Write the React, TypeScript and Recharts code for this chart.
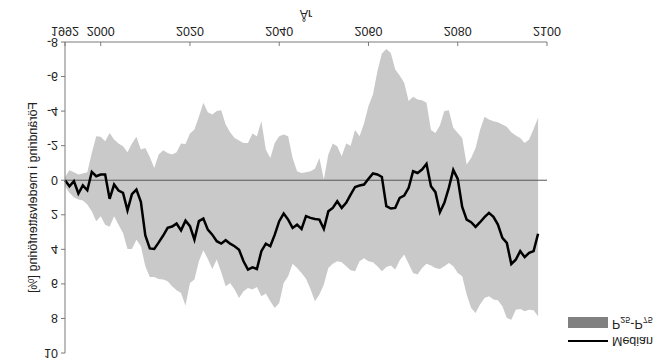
import { ComposedChart, Area, Line, XAxis, YAxis, ReferenceLine } from 'recharts'

const years = [
  1992, 1993, 1994, 1995, 1996, 1997, 1998, 1999, 2000, 2001,
  2002, 2003, 2004, 2005, 2006, 2007, 2008, 2009, 2010, 2011,
  2012, 2013, 2014, 2015, 2016, 2017, 2018, 2019, 2020, 2021,
  2022, 2023, 2024, 2025, 2026, 2027, 2028, 2029, 2030, 2031,
  2032, 2033, 2034, 2035, 2036, 2037, 2038, 2039, 2040, 2041,
  2042, 2043, 2044, 2045, 2046, 2047, 2048, 2049, 2050, 2051,
  2052, 2053, 2054, 2055, 2056, 2057, 2058, 2059, 2060, 2061,
  2062, 2063, 2064, 2065, 2066, 2067, 2068, 2069, 2070, 2071,
  2072, 2073, 2074, 2075, 2076, 2077, 2078, 2079, 2080, 2081,
  2082, 2083, 2084, 2085, 2086, 2087, 2088, 2089, 2090, 2091,
  2092, 2093, 2094, 2095, 2096, 2097, 2098,
]

const median = [
  0, 0.35, 0.05, 0.77, 0.3, 0.58, -0.48, -0.23, -0.33, -0.33,
  1.08, 0.25, 0.6, 0.73, 1.74, 0.8, 0.54, 1.25, 3.2, 3.95,
  3.98, 3.6, 3.2, 2.76, 2.68, 2.51, 2.9, 2.34, 2.66, 3.44,
  2.37, 2.22, 2.86, 3.15, 3.53, 3.67, 3.47, 3.67, 3.82, 4.02,
  4.69, 5.17, 5.04, 5.14, 4.11, 3.67, 3.82, 3.15, 2.37, 1.93,
  2.28, 2.76, 2.57, 2.82, 2.08, 2.18, 2.24, 2.28, 2.82, 1.8,
  1.6, 1.22, 1.6, 1.31, 0.83, 0.39, 0.31, 0.25, -0.08, -0.39,
  -0.33, -0.19, 1.5, 1.64, 1.6, 1.02, 0.89, 0.44, -0.52, -0.42,
  -0.62, -0.95, 0.35, 0.69, 1.85, 1.31, 0.44, -0.6, -0.08, 1.54,
  2.28, 2.43, 2.7, 2.43, 2.14, 1.89, 2.12, 2.57, 3.34, 3.63,
  4.85, 4.6, 4.1, 4.45, 4.2, 4.1, 3.1,
]

const p25 = [
  -0.19, -0.58, -0.46, -0.33, -0.39, -0.46, -1.58, -2.55, -2.51, -2.26,
  -2.74, -2.36, -2.12, -1.97, -1.62, -2.12, -2.51, -1.78, -1.87, -1.35,
  -0.71, -1.49, -1.74, -1.58, -1.49, -1.62, -2.12, -2.1, -2.7, -2.93,
  -3.67, -4.48, -3.94, -3.8, -4.0, -4.05, -3.22, -2.78, -2.45, -2.3,
  -2.16, -2.16, -2.7, -2.55, -3.42, -1.78, -1.29, -2.16, -2.55, -2.64,
  -2.55, -1.29, -0.52, -0.42, -0.46, -0.52, -0.66, -1.29, -0.04, -1.49,
  -2.12, -1.97, -1.39, -2.12, -2.0, -2.9, -2.55, -3.28, -4.29, -4.96,
  -6.31, -7.34, -7.6, -7.37, -6.41, -6.06, -5.64, -4.58, -4.83, -4.67,
  -4.63, -4.48, -2.9, -2.74, -3.17, -4.0, -4.05, -3.03, -2.74, -2.45,
  -0.91, -1.29, -1.87, -2.9, -3.67, -3.51, -3.42, -3.36, -3.22, -3.09,
  -2.78, -2.59, -2.45, -2.16, -2.36, -2.97, -3.61,
]

const p75 = [
  0.35, 0.73, 0.98, 1.12, 1.18, 1.41, 1.8, 2.37, 2.08, 2.57,
  2.7, 2.08, 2.57, 3.05, 3.98, 3.98, 3.44, 3.82, 4.98, 5.6,
  5.6, 5.71, 5.75, 5.85, 6.14, 6.37, 6.53, 7.25, 5.95, 5.75,
  4.69, 4.05, 4.56, 5.14, 4.59, 5.33, 6.14, 5.95, 6.33, 6.81,
  6.43, 6.24, 6.33, 6.18, 6.72, 6.56, 7.0, 7.39, 7.1, 5.95,
  5.56, 4.83, 5.08, 5.37, 5.7, 6.29, 7.0, 6.62, 6.04, 5.08,
  4.83, 4.69, 4.75, 4.98, 5.21, 5.27, 4.69, 4.52, 4.69, 4.75,
  4.98, 5.27, 5.02, 4.94, 5.17, 4.63, 4.3, 4.83, 5.37, 5.46,
  5.08, 4.83, 4.94, 5.08, 5.14, 4.98, 4.79, 4.98, 5.37, 5.56,
  6.62, 7.39, 7.68, 7.2, 6.81, 6.72, 6.91, 6.95, 7.3, 7.97,
  8.07, 7.49, 7.45, 7.59, 7.49, 7.53, 7.88,
]

const xTicks = [1992, 2000, 2020, 2040, 2060, 2080, 2100]
const yTicks = [-8, -6, -4, -2, 0, 2, 4, 6, 8, 10]

const data = years.map((year, i) => ({ year, median: median[i], band: [p25[i], p75[i]] }))

const font = '"Liberation Sans", Arial, sans-serif'
const axisGray = '#7a7a7a'
const textColor = '#222'

// x ticks point into the plot
const XTick = ({ x, y, payload }: any) => (
  <g>
    <line x1={x} x2={x} y1={y} y2={y - 4} stroke={axisGray} />
    <text x={x} y={y + 15} textAnchor="middle" fontSize={12.5} fill={textColor} fontFamily={font}>
      {payload.value}
    </text>
  </g>
)

export default function App() {
  return (
    // the reference picture is mirrored top to bottom, so the whole chart is flipped
    <div
      style={{
        position: 'absolute',
        left: 0,
        top: 0,
        width: 667,
        height: 360,
        background: '#fff',
        fontFamily: font,
        transform: 'scaleY(-1)',
      }}
    >
      <ComposedChart width={667} height={360} data={data} margin={{ top: 7, right: 120, bottom: 12, left: 5 }}>
        <XAxis
          dataKey="year"
          type="number"
          domain={[1992, 2100]}
          ticks={xTicks}
          interval={0}
          height={30}
          stroke={axisGray}
          tickLine={false}
          tickSize={0}
          tickMargin={0}
          tick={<XTick />}
          label={{ value: 'År', position: 'insideBottom', offset: -2, fontSize: 12.5, fill: textColor, fontFamily: font }}
        />
        <YAxis
          type="number"
          domain={[-8, 10]}
          ticks={yTicks}
          interval={0}
          width={60}
          stroke={axisGray}
          tickSize={4}
          tickMargin={3}
          tick={{ fontSize: 12.5, fill: textColor, fontFamily: font }}
          label={{
            value: 'Förändring i medelvattenföring [%]',
            angle: -90,
            position: 'insideLeft',
            offset: 28,
            fontSize: 12.5,
            fill: textColor,
            fontFamily: font,
            style: { textAnchor: 'middle' },
          }}
        />
        <Area dataKey="band" stroke="none" fill="#c9c9c9" fillOpacity={1} isAnimationActive={false} />
        <ReferenceLine y={0} stroke="#555" strokeWidth={1} />
        <Line dataKey="median" stroke="#000" strokeWidth={2.5} dot={false} isAnimationActive={false} />
      </ComposedChart>

      <div style={{ position: 'absolute', left: 568, top: 18, width: 40, height: 2, background: '#000' }} />
      <div style={{ position: 'absolute', left: 612, top: 12, fontSize: 12.5, lineHeight: '14px', color: textColor }}>
        Median
      </div>
      <div style={{ position: 'absolute', left: 568, top: 32, width: 40, height: 11, background: '#808080' }} />
      <div style={{ position: 'absolute', left: 612, top: 29, fontSize: 12.5, lineHeight: '14px', color: textColor }}>
        P<sub style={{ fontSize: 9, verticalAlign: '-3px' }}>25</sub>-P
        <sub style={{ fontSize: 9, verticalAlign: '-3px' }}>75</sub>
      </div>
    </div>
  )
}
